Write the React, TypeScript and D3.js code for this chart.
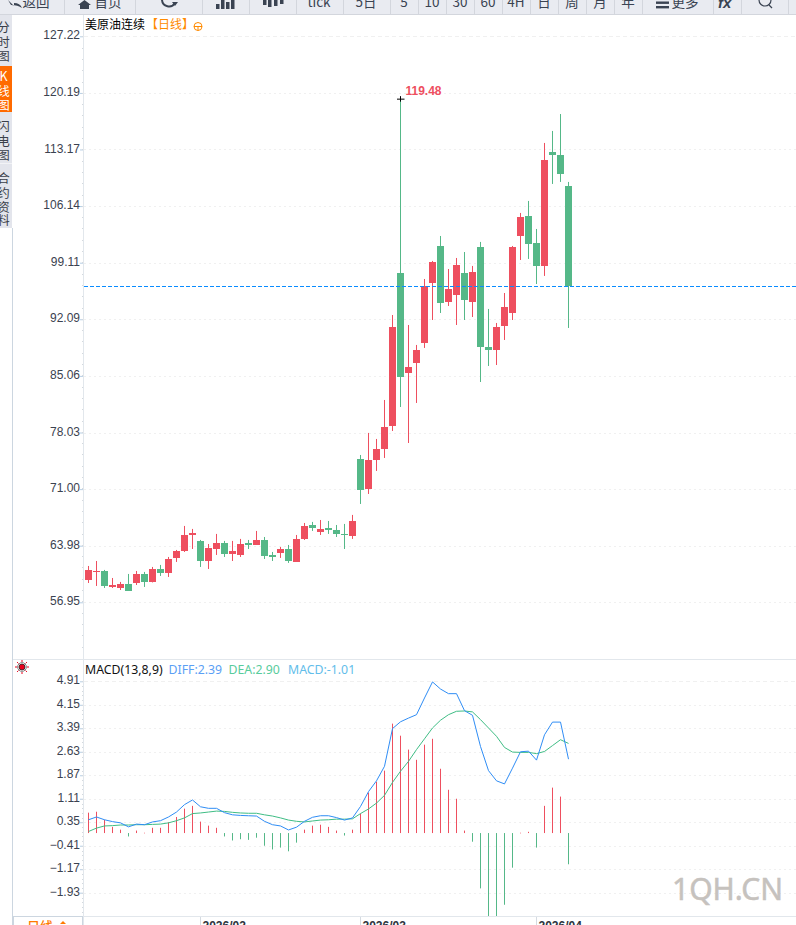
import React, { useEffect, useRef } from "react";
import * as d3 from "d3";

const opens = [
  59.73, 60.72, 60.84, 58.86, 58.73, 59.23, 59.35, 60.47, 59.48, 61.09, 60.59, 62.46, 63.33, 65.31, 64.57, 62.08,
  63.57, 64.32, 62.95, 62.83, 64.32, 64.07, 64.69, 62.83, 63.08, 63.57, 61.96, 64.82, 66.55, 65.68, 66.18, 65.93,
  65.44, 65.19, 74.75, 71.02, 74.62, 75.99, 78.84, 97.84, 85.42, 86.66, 89.15, 96.6, 101.19, 94.24, 95.11, 97.84,
  94.24, 101.07, 88.65, 88.28, 91.26, 92.87, 102.43, 104.91, 101.56, 98.71, 112.86, 112.49, 108.64,
];
const closes = [
  60.97, 60.84, 58.98, 59.1, 59.23, 58.36, 60.47, 59.48, 61.09, 60.59, 62.33, 63.33, 65.31, 65.56, 62.08, 63.7,
  64.32, 62.95, 63.33, 64.19, 64.07, 64.69, 62.71, 62.58, 63.57, 62.08, 64.82, 66.43, 66.18, 66.06, 65.93, 65.44,
  65.31, 67.05, 70.9, 74.62, 75.99, 78.72, 91.13, 84.93, 86.17, 88.28, 96.22, 99.2, 94.11, 95.85, 98.83, 94.49,
  97.96, 88.65, 88.28, 91.13, 93.62, 101.07, 104.79, 101.44, 98.71, 111.87, 112.49, 110.13, 96.22,
];
const highs = [
  61.46, 62.08, 60.97, 59.97, 59.48, 60.47, 60.84, 60.72, 61.34, 61.59, 62.58, 63.45, 66.43, 66.06, 64.69, 64.19,
  65.44, 64.57, 64.57, 64.82, 64.69, 65.81, 65.06, 63.2, 63.82, 64.07, 65.31, 66.8, 66.93, 67.17, 67.05, 66.55,
  66.68, 67.8, 75.24, 77.98, 77.23, 82.07, 92.62, 119.48, 91.38, 88.9, 97.09, 99.33, 102.43, 98.33, 99.7, 100.44,
  98.71, 101.69, 93.37, 91.63, 95.35, 101.19, 105.29, 106.78, 103.3, 113.98, 115.47, 117.57, 109.14,
];
const lows = [
  59.35, 58.98, 58.73, 58.73, 58.48, 58.36, 59.1, 58.86, 59.42, 60.22, 60.1, 61.96, 63.2, 63.57, 61.34, 61.09,
  62.83, 62.58, 62.08, 62.58, 63.57, 64.07, 62.33, 62.08, 62.46, 61.84, 61.96, 64.69, 65.81, 65.31, 65.44, 65.06,
  63.57, 64.82, 69.16, 70.4, 73.26, 74.87, 78.22, 81.2, 76.73, 81.7, 88.53, 92.0, 92.87, 93.74, 91.38, 92.0,
  92.37, 84.3, 86.29, 86.41, 89.52, 92.0, 99.45, 99.58, 96.47, 97.47, 108.89, 109.14, 91.01,
];
const macdBars = [
  0.66, 0.69, 0.43, 0.2, 0.11, -0.11, 0.08, 0.01, 0.17, 0.17, 0.35, 0.52, 0.79, 0.88, 0.37, 0.24, 0.17, -0.11,
  -0.24, -0.2, -0.22, -0.15, -0.41, -0.53, -0.47, -0.59, -0.31, 0.11, 0.24, 0.27, 0.2, 0.08, -0.08, 0.11, 0.63,
  1.31, 1.66, 2.02, 3.54, 3.15, 2.7, 2.37, 2.86, 3.05, 2.08, 1.4, 1.11, 0.08, -0.28, -1.79, -3.2, -3.2, -2.32,
  -1.12, 0.01, 0.04, -0.47, 0.88, 1.47, 1.18, -1.01,
];
const diffLine = [
  0.43, 0.52, 0.43, 0.37, 0.33, 0.2, 0.29, 0.27, 0.36, 0.4, 0.52, 0.68, 0.92, 1.07, 0.85, 0.8, 0.8, 0.66, 0.59,
  0.57, 0.56, 0.55, 0.38, 0.27, 0.23, 0.1, 0.19, 0.38, 0.51, 0.56, 0.56, 0.5, 0.42, 0.49, 0.86, 1.34, 1.69, 2.16,
  3.38, 3.6, 3.72, 3.83, 4.37, 4.89, 4.66, 4.51, 4.51, 3.96, 3.81, 2.8, 2.02, 1.69, 1.59, 2.1, 2.63, 2.65, 2.36,
  3.18, 3.59, 3.59, 2.39,
];
const deaLine = [
  0.05, 0.16, 0.23, 0.24, 0.26, 0.26, 0.27, 0.27, 0.28, 0.29, 0.33, 0.4, 0.49, 0.63, 0.65, 0.68, 0.71, 0.7, 0.67,
  0.65, 0.64, 0.64, 0.59, 0.55, 0.49, 0.42, 0.38, 0.36, 0.39, 0.42, 0.43, 0.45, 0.45, 0.46, 0.63, 0.78, 0.97,
  1.22, 1.64, 2.0, 2.32, 2.7, 3.05, 3.4, 3.65, 3.83, 3.94, 3.95, 3.92, 3.67, 3.4, 3.13, 2.77, 2.62, 2.61, 2.61,
  2.57, 2.64, 2.83, 3.02, 2.9,
];

const priceTicks = [127.22, 120.19, 113.17, 106.14, 99.11, 92.09, 85.06, 78.03, 71.0, 63.98, 56.95];
const macdTicks = [4.91, 4.15, 3.39, 2.63, 1.87, 1.11, 0.35, -0.41, -1.17, -1.93];
const monthLabels = ["2026/02", "2026/03", "2026/04"];
const monthIndex = [14, 34, 56];
const lastPrice = 96.22;
const peakPrice = 119.48;

const toolbarEdges = [64, 135, 202, 249, 296, 343, 390, 418, 446, 474, 502, 530, 558, 586, 614, 642, 713, 741, 788];
const toolbarText: [string, number][] = [
  ["返回", 36], ["首页", 108], ["tick", 319], ["5日", 366], ["5", 404], ["10", 432], ["30", 460], ["60", 488],
  ["4H", 516], ["日", 544], ["周", 572], ["月", 600], ["年", 628], ["更多", 685],
];
const sideTabs: [string, number, boolean][] = [
  ["分", 27, false], ["时", 42, false], ["图", 56, false],
  ["K", 76, true], ["线", 91, true], ["图", 105, true],
  ["闪", 126, false], ["电", 141, false], ["图", 155, false],
  ["合", 178, false], ["约", 193, false], ["资", 207, false], ["料", 220, false],
];

const RED = "#ee4f5f";
const GREEN = "#55b888";
const INK = "#3a4352";
const CJK = '"Noto Sans CJK SC", sans-serif';
const LATIN = '"Liberation Sans", Arial, sans-serif';

export default function App() {
  const ref = useRef<SVGSVGElement>(null);

  useEffect(() => {
    const svg = d3.select(ref.current);
    svg.selectAll("*").remove();

    const x = d3.scaleLinear().domain([0, 60]).range([88.5, 568.5]);
    const yPrice = d3.scaleLinear().domain([56.95, 127.22]).range([602.3, 36.3]);
    const yMacd = d3.scaleLinear().domain([-1.93, 4.91]).range([892.7, 681.3]);
    const idx = d3.range(opens.length);

    svg.append("defs").append("clipPath").attr("id", "macdClip")
      .append("rect").attr("x", 84).attr("y", 660).attr("width", 712).attr("height", 256);

    // toolbar
    const bar = svg.append("g");
    bar.append("rect").attr("width", 796).attr("height", 14).attr("fill", "#e9ebf1");
    bar.append("line").attr("x1", 0).attr("x2", 796).attr("y1", 14.5).attr("y2", 14.5).attr("stroke", "#d3d6dd");
    bar.selectAll(".edge").data(toolbarEdges).enter().append("line")
      .attr("x1", (d) => d + 0.5).attr("x2", (d) => d + 0.5).attr("y1", 0).attr("y2", 14)
      .attr("stroke", "#d3d6dd");
    bar.selectAll(".label").data(toolbarText).enter().append("text")
      .attr("x", (d) => d[1]).attr("y", 7)
      .attr("text-anchor", "middle").attr("font-family", CJK).attr("font-size", 13.5).attr("fill", INK)
      .text((d) => d[0]);
    bar.append("path").attr("d", "M8 0 L14 6 L14 3 Q20 3 22 8 Q18 5 11 5 Z").attr("fill", INK);
    bar.append("path").attr("d", "M78 5 L84.5 0 L91 5 L89 5 L89 9 L80 9 L80 5 Z").attr("fill", INK);
    bar.append("path").attr("d", "M162 0 A7 7 0 0 0 175 3").attr("fill", "none").attr("stroke", INK).attr("stroke-width", 2);
    bar.append("path").attr("d", "M172 2 L178 2 L175 6 Z").attr("fill", INK);
    bar.selectAll(".ic1").data([216, 221, 226, 231]).enter().append("rect")
      .attr("x", (d) => d).attr("y", (d, i) => [4, 0, 2, 0][i]).attr("width", 3.5).attr("height", (d, i) => 9 - [4, 0, 2, 0][i])
      .attr("fill", INK);
    bar.selectAll(".ic2").data([263, 268, 274, 280]).enter().append("rect")
      .attr("x", (d) => d).attr("y", 0).attr("width", 3.5).attr("height", (d, i) => [5, 7, 6, 4][i])
      .attr("fill", INK);
    bar.selectAll(".ic3").data([1.5, 6]).enter().append("rect")
      .attr("x", 656).attr("y", (d) => d).attr("width", 13).attr("height", 2.4).attr("fill", INK);
    bar.append("text").attr("x", 718).attr("y", 8).attr("font-family", LATIN).attr("font-weight", "bold")
      .attr("font-style", "italic").attr("font-size", 15).attr("fill", INK).text("fx");
    bar.append("circle").attr("cx", 765).attr("cy", 0).attr("r", 6).attr("fill", "none").attr("stroke", INK).attr("stroke-width", 1.2);
    bar.append("line").attr("x1", 769).attr("x2", 772).attr("y1", 5).attr("y2", 8).attr("stroke", INK).attr("stroke-width", 1.2);

    // side tabs
    const side = svg.append("g");
    side.append("rect").attr("x", 0).attr("y", 15).attr("width", 12).attr("height", 213).attr("fill", "#e3e5ec");
    side.append("rect").attr("x", 0).attr("y", 66).attr("width", 12).attr("height", 46).attr("fill", "#ff6a00");
    side.append("line").attr("x1", 0).attr("x2", 12).attr("y1", 163.5).attr("y2", 163.5).attr("stroke", "#f2f3f6");
    side.append("line").attr("x1", 12.5).attr("x2", 12.5).attr("y1", 228).attr("y2", 925).attr("stroke", "#ccd6e0");
    side.selectAll("text").data(sideTabs).enter().append("text")
      .attr("x", 3.5).attr("y", (d) => d[1] + 4.5).attr("text-anchor", "middle")
      .attr("font-family", CJK).attr("font-size", 12.5)
      .attr("fill", (d) => (d[2] ? "#ffffff" : "#3a3f4a"))
      .text((d) => d[0]);

    // gridlines
    const grid = svg.append("g");
    const gridRows = [
      ...priceTicks.map((t) => yPrice(t)),
      ...macdTicks.map((t) => yMacd(t)),
    ];
    grid.selectAll("line").data(gridRows).enter().append("line")
      .attr("x1", 84).attr("x2", 796)
      .attr("y1", (d) => Math.round(d) + 0.5).attr("y2", (d) => Math.round(d) + 0.5)
      .attr("stroke", "#f0f0f0").attr("stroke-dasharray", (d, i) => (i === 0 || i === priceTicks.length ? "4,3" : "2,3"));

    // panel frame
    const frame = svg.append("g").attr("stroke", "#e2e7ec");
    frame.append("line").attr("x1", 83.5).attr("x2", 83.5).attr("y1", 15).attr("y2", 925);
    frame.append("line").attr("x1", 13).attr("x2", 796).attr("y1", 659.5).attr("y2", 659.5);
    frame.append("line").attr("x1", 13).attr("x2", 796).attr("y1", 916.5).attr("y2", 916.5);

    // axes
    const styleAxis = (g: any) => {
      g.select(".domain").remove();
      g.selectAll(".tick line").attr("stroke", "#b8cfe4");
      g.selectAll("text").attr("font-family", LATIN).attr("font-size", 12).attr("fill", "#3b4250").attr("dy", "0.22em");
    };
    const fmt = d3.format(".2f");
    const priceAxis = svg.append("g").attr("transform", "translate(83,0)");
    priceAxis.call(d3.axisLeft(yPrice).tickValues(priceTicks).tickFormat((d) => fmt(d as number)).tickSize(3).tickPadding(0) as any);
    styleAxis(priceAxis);
    const macdAxis = svg.append("g").attr("transform", "translate(83,0)");
    macdAxis.call(d3.axisLeft(yMacd).tickValues(macdTicks).tickFormat((d) => fmt(d as number)).tickSize(3).tickPadding(0) as any);
    styleAxis(macdAxis);

    // small ticks between the labels
    const minorPrice = d3.range(36.3, 655, 11.3);
    const minorMacd = d3.range(681.3, 912, 4.7);
    svg.append("g").selectAll("rect").data([...minorPrice, ...minorMacd]).enter().append("rect")
      .attr("x", 82).attr("y", (d) => Math.round(d)).attr("width", 1).attr("height", 1).attr("fill", "#d4d9de");

    // candles
    const candles = svg.append("g").selectAll("g").data(idx).enter().append("g")
      .attr("fill", (i) => (closes[i] >= opens[i] ? RED : GREEN));
    candles.append("rect")
      .attr("x", (i) => x(i) - 0.5).attr("width", 1)
      .attr("y", (i) => yPrice(highs[i]))
      .attr("height", (i) => yPrice(lows[i]) - yPrice(highs[i]));
    candles.append("rect")
      .attr("x", (i) => x(i) - 3.5).attr("width", 7)
      .attr("y", (i) => Math.round(yPrice(Math.max(opens[i], closes[i]))))
      .attr("height", (i) => Math.max(1, Math.round(Math.abs(yPrice(opens[i]) - yPrice(closes[i])))));

    // last price line
    svg.append("line").attr("x1", 84).attr("x2", 796)
      .attr("y1", Math.round(yPrice(lastPrice)) + 0.5).attr("y2", Math.round(yPrice(lastPrice)) + 0.5)
      .attr("stroke", "#0a8cff").attr("stroke-dasharray", "4,2");

    // peak marker
    const peakX = x(39);
    const peakY = yPrice(peakPrice);
    svg.append("path")
      .attr("d", `M${peakX - 3.5} ${peakY + 0.5}H${peakX + 4}M${peakX} ${peakY - 2.5}V${peakY + 3}`)
      .attr("stroke", "#000").attr("fill", "none");
    svg.append("text").attr("x", peakX + 5).attr("y", peakY - 3.5)
      .attr("font-family", LATIN).attr("font-size", 12).attr("font-weight", "bold").attr("fill", RED)
      .text(fmt(peakPrice));

    // titles
    const title = svg.append("text").attr("x", 85).attr("y", 29).attr("font-family", CJK).attr("font-size", 12);
    title.append("tspan").attr("fill", "#000").text("美原油连续");
    title.append("tspan").attr("dx", 1).attr("fill", "#ff8a00").text("【日线】");
    svg.append("circle").attr("cx", 198).attr("cy", 26.5).attr("r", 4).attr("fill", "none").attr("stroke", "#ff8a00");
    svg.append("path").attr("d", "M194 26.5H202M198 26.5V30.5").attr("stroke", "#ff8a00").attr("fill", "none");

    // macd bars and lines
    const zero = yMacd(0);
    const macd = svg.append("g").attr("clip-path", "url(#macdClip)");
    macd.selectAll("rect").data(idx).enter().append("rect")
      .attr("x", (i) => x(i) - 0.5).attr("width", 1)
      .attr("y", (i) => (macdBars[i] >= 0 ? yMacd(macdBars[i]) : zero))
      .attr("height", (i) => Math.max(0.6, Math.abs(yMacd(macdBars[i]) - zero)))
      .attr("fill", (i) => (macdBars[i] >= 0 ? RED : GREEN));
    const line = (vals: number[]) =>
      d3.line<number>().x((i) => x(i)).y((i) => yMacd(vals[i]))(idx);
    macd.append("path").attr("d", line(deaLine)).attr("fill", "none").attr("stroke", "#3fbd85").attr("stroke-width", 1);
    macd.append("path").attr("d", line(diffLine)).attr("fill", "none").attr("stroke", "#2f8df5").attr("stroke-width", 1);

    const legend = svg.append("g").attr("font-family", '"Noto Sans", sans-serif').attr("font-size", 12.3);
    legend.append("text").attr("x", 85).attr("y", 674).attr("fill", "#111").text("MACD(13,8,9)");
    legend.append("text").attr("x", 168.5).attr("y", 674).attr("fill", "#5b9ff5").text("DIFF:2.39");
    legend.append("text").attr("x", 228.5).attr("y", 674).attr("fill", "#58cc9c").text("DEA:2.90");
    legend.append("text").attr("x", 288).attr("y", 674).attr("fill", "#62bdea").text("MACD:-1.01");

    // indicator icon
    const sun = svg.append("g").attr("transform", "translate(22,667)");
    sun.append("circle").attr("r", 3).attr("fill", "#e8001c").attr("stroke", "#222").attr("stroke-width", 0.8);
    sun.append("circle").attr("r", 4.4).attr("fill", "none").attr("stroke", "#333").attr("stroke-width", 0.6);
    sun.selectAll("line").data(d3.range(8)).enter().append("line")
      .attr("x1", (d) => 5 * Math.cos((d * Math.PI) / 4)).attr("y1", (d) => 5 * Math.sin((d * Math.PI) / 4))
      .attr("x2", (d) => 7 * Math.cos((d * Math.PI) / 4)).attr("y2", (d) => 7 * Math.sin((d * Math.PI) / 4))
      .attr("stroke", "#e8001c");

    // date strip, cut by the page bottom
    svg.append("rect").attr("x", 13.5).attr("y", 916.5).attr("width", 69).attr("height", 10).attr("fill", "#fff").attr("stroke", "#ccd6e0");
    svg.append("text").attr("x", 27).attr("y", 931).attr("font-family", CJK).attr("font-size", 13).attr("font-weight", 500).attr("fill", "#ff7a00").text("日线");
    svg.append("path").attr("d", "M60 924l3-3 3 3z").attr("fill", "#ff7a00");
    const months = svg.append("g").selectAll("g").data(monthLabels).enter().append("g");
    months.append("line")
      .attr("x1", (d, i) => x(monthIndex[i])).attr("x2", (d, i) => x(monthIndex[i]))
      .attr("y1", 917).attr("y2", 925).attr("stroke", "#d5dbe1");
    months.append("text")
      .attr("x", (d, i) => x(monthIndex[i]) + 2).attr("y", 930)
      .attr("font-family", LATIN).attr("font-size", 12).attr("font-weight", "bold").attr("fill", "#2e3440")
      .text((d) => d);

    // watermark
    svg.append("text").attr("x", 672).attr("y", 900)
      .attr("font-family", '"Noto Sans", sans-serif').attr("font-size", 30).attr("fill", "#c6c2be")
      .attr("stroke", "#c6c2be").attr("stroke-width", 0.5)
      .text("1QH.CN");
  }, []);

  return (
    <svg
      ref={ref}
      width={796}
      height={925}
      style={{ position: "absolute", left: 0, top: 0, display: "block", background: "#fff" }}
    />
  );
}
